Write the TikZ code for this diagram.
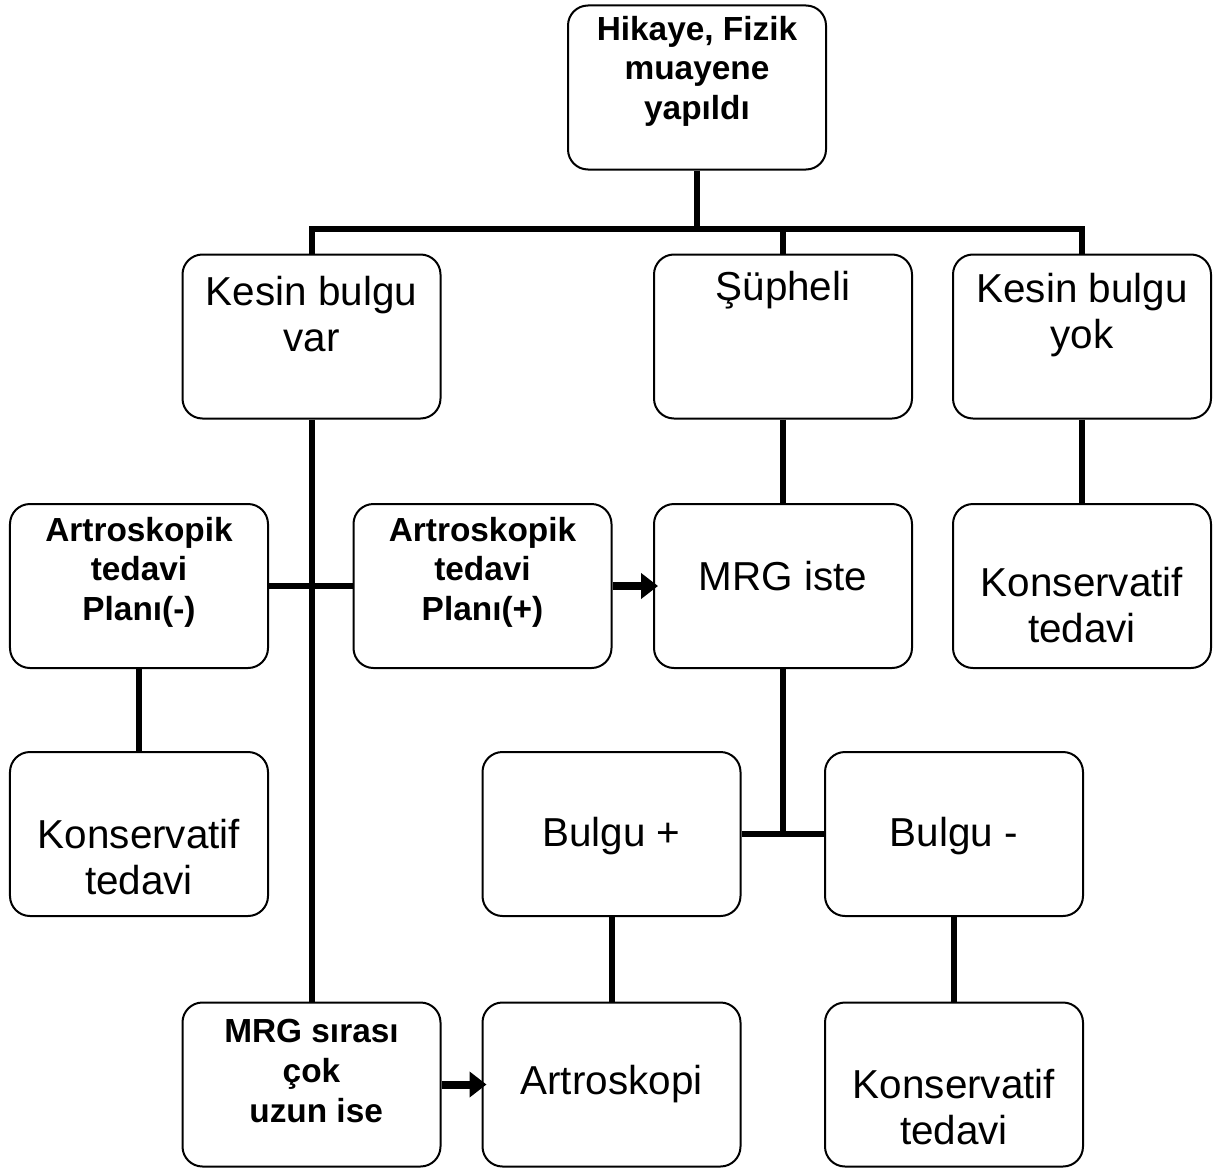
\documentclass[tikz,border=0pt]{standalone}
\usepackage{fontspec}
\setmainfont{Liberation Sans}
\usetikzlibrary{arrows.meta,calc}

\begin{document}
\begin{tikzpicture}[x=0.2mm,y=-0.2mm,
        kutu/.style = {draw,line width=0.4mm,rounded corners=4mm,minimum width=51.6mm,minimum height=32.8mm,inner sep=0pt},
        yazi/.style = {align=center,inner sep=0pt,font=\fontsize{23}{25.8}\selectfont},
        kalin/.style = {align=center,inner sep=0pt,font=\bfseries\fontsize{19}{22.5}\selectfont},
        hat/.style = {line width=1.2mm},
        ok/.style = {line width=1.6mm,-{Triangle[length=3.4mm,width=5mm]},shorten >=-1mm}
        ]

        %Raster
        \useasboundingbox (0,0) rectangle (1221,1169);

        %Kutular
        \node[kutu] (ust) at (697,87.5) {};
        \node[kutu] (kbvar) at (311.5,336.5) {};
        \node[kutu] (supheli) at (783,336.5) {};
        \node[kutu] (kbyok) at (1082,336.5) {};
        \node[kutu] (artEksi) at (139,586) {};
        \node[kutu] (artArti) at (482.5,586) {};
        \node[kutu] (mrgIste) at (783,586) {};
        \node[kutu] (konsSag) at (1082,586) {};
        \node[kutu] (konsSol) at (139,834) {};
        \node[kutu] (bulguArti) at (611.5,834) {};
        \node[kutu] (bulguEksi) at (954,834) {};
        \node[kutu] (mrgSira) at (311.5,1084.5) {};
        \node[kutu] (artroskopi) at (611.5,1084.5) {};
        \node[kutu] (konsAlt) at (954,1084.5) {};

        %Yazilar
        \node[kalin] (ustT) at (697,71) {Hikaye, Fizik\\muayene\\yapıldı};
        \node[yazi] (kbvarT) at (311.5,314) {Kesin bulgu\\var};
        \node[yazi] (supheliT) at (783,290) {Şüpheli};
        \node[yazi] (kbyokT) at (1082,315) {Kesin bulgu\\yok};
        \node[kalin] (artEksiT) at (139,572) {Artroskopik\\tedavi\\Planı(-)};
        \node[kalin] (artArtiT) at (482.5,572) {Artroskopik\\tedavi\\Planı(+)};
        \node[yazi] (mrgIsteT) at (783,576) {MRG iste};
        \node[yazi] (konsSagT) at (1082,605) {Konservatif\\tedavi};
        \node[yazi] (konsSolT) at (139,857) {Konservatif\\tedavi};
        \node[yazi] (bulguArtiT) at (611.5,836) {Bulgu +};
        \node[yazi] (bulguEksiT) at (954,836) {Bulgu -};
        \node[kalin] (mrgSiraT) at (311.5,1071) {MRG sırası\\çok\\\ uzun ise};
        \node[yazi] (artroskopiT) at (611.5,1084) {Artroskopi};
        \node[yazi] (konsAltT) at (954,1107) {Konservatif\\tedavi};

        %Baglantilar
        \draw[hat] (ust.south) -- ++(0,58) coordinate (bus);
        \draw[hat] (kbvar.north) |- (bus);
        \draw[hat] (kbyok.north) |- (bus);
        \draw[hat] (supheli.north) -- (supheli.north |- bus);
        \draw[hat] (kbvar.south) -- (mrgSira.north);
        \draw[hat] (artEksi.east) -- (artArti.west);
        \draw[hat] (artEksi.south) -- (konsSol.north);
        \draw[hat] (supheli.south) -- (mrgIste.north);
        \draw[hat] (kbyok.south) -- (konsSag.north);
        \draw[hat] (bulguArti.east) -- (bulguEksi.west);
        \draw[hat] (mrgIste.south) -- (mrgIste.south |- bulguArti.east);
        \draw[hat] (bulguArti.south) -- (artroskopi.north);
        \draw[hat] (bulguEksi.south) -- (konsAlt.north);
        \draw[ok] (artArti.east) -- (mrgIste.west);
        \draw[ok] (mrgSira.east) -- (artroskopi.west);

    \end{tikzpicture}
\end{document}
